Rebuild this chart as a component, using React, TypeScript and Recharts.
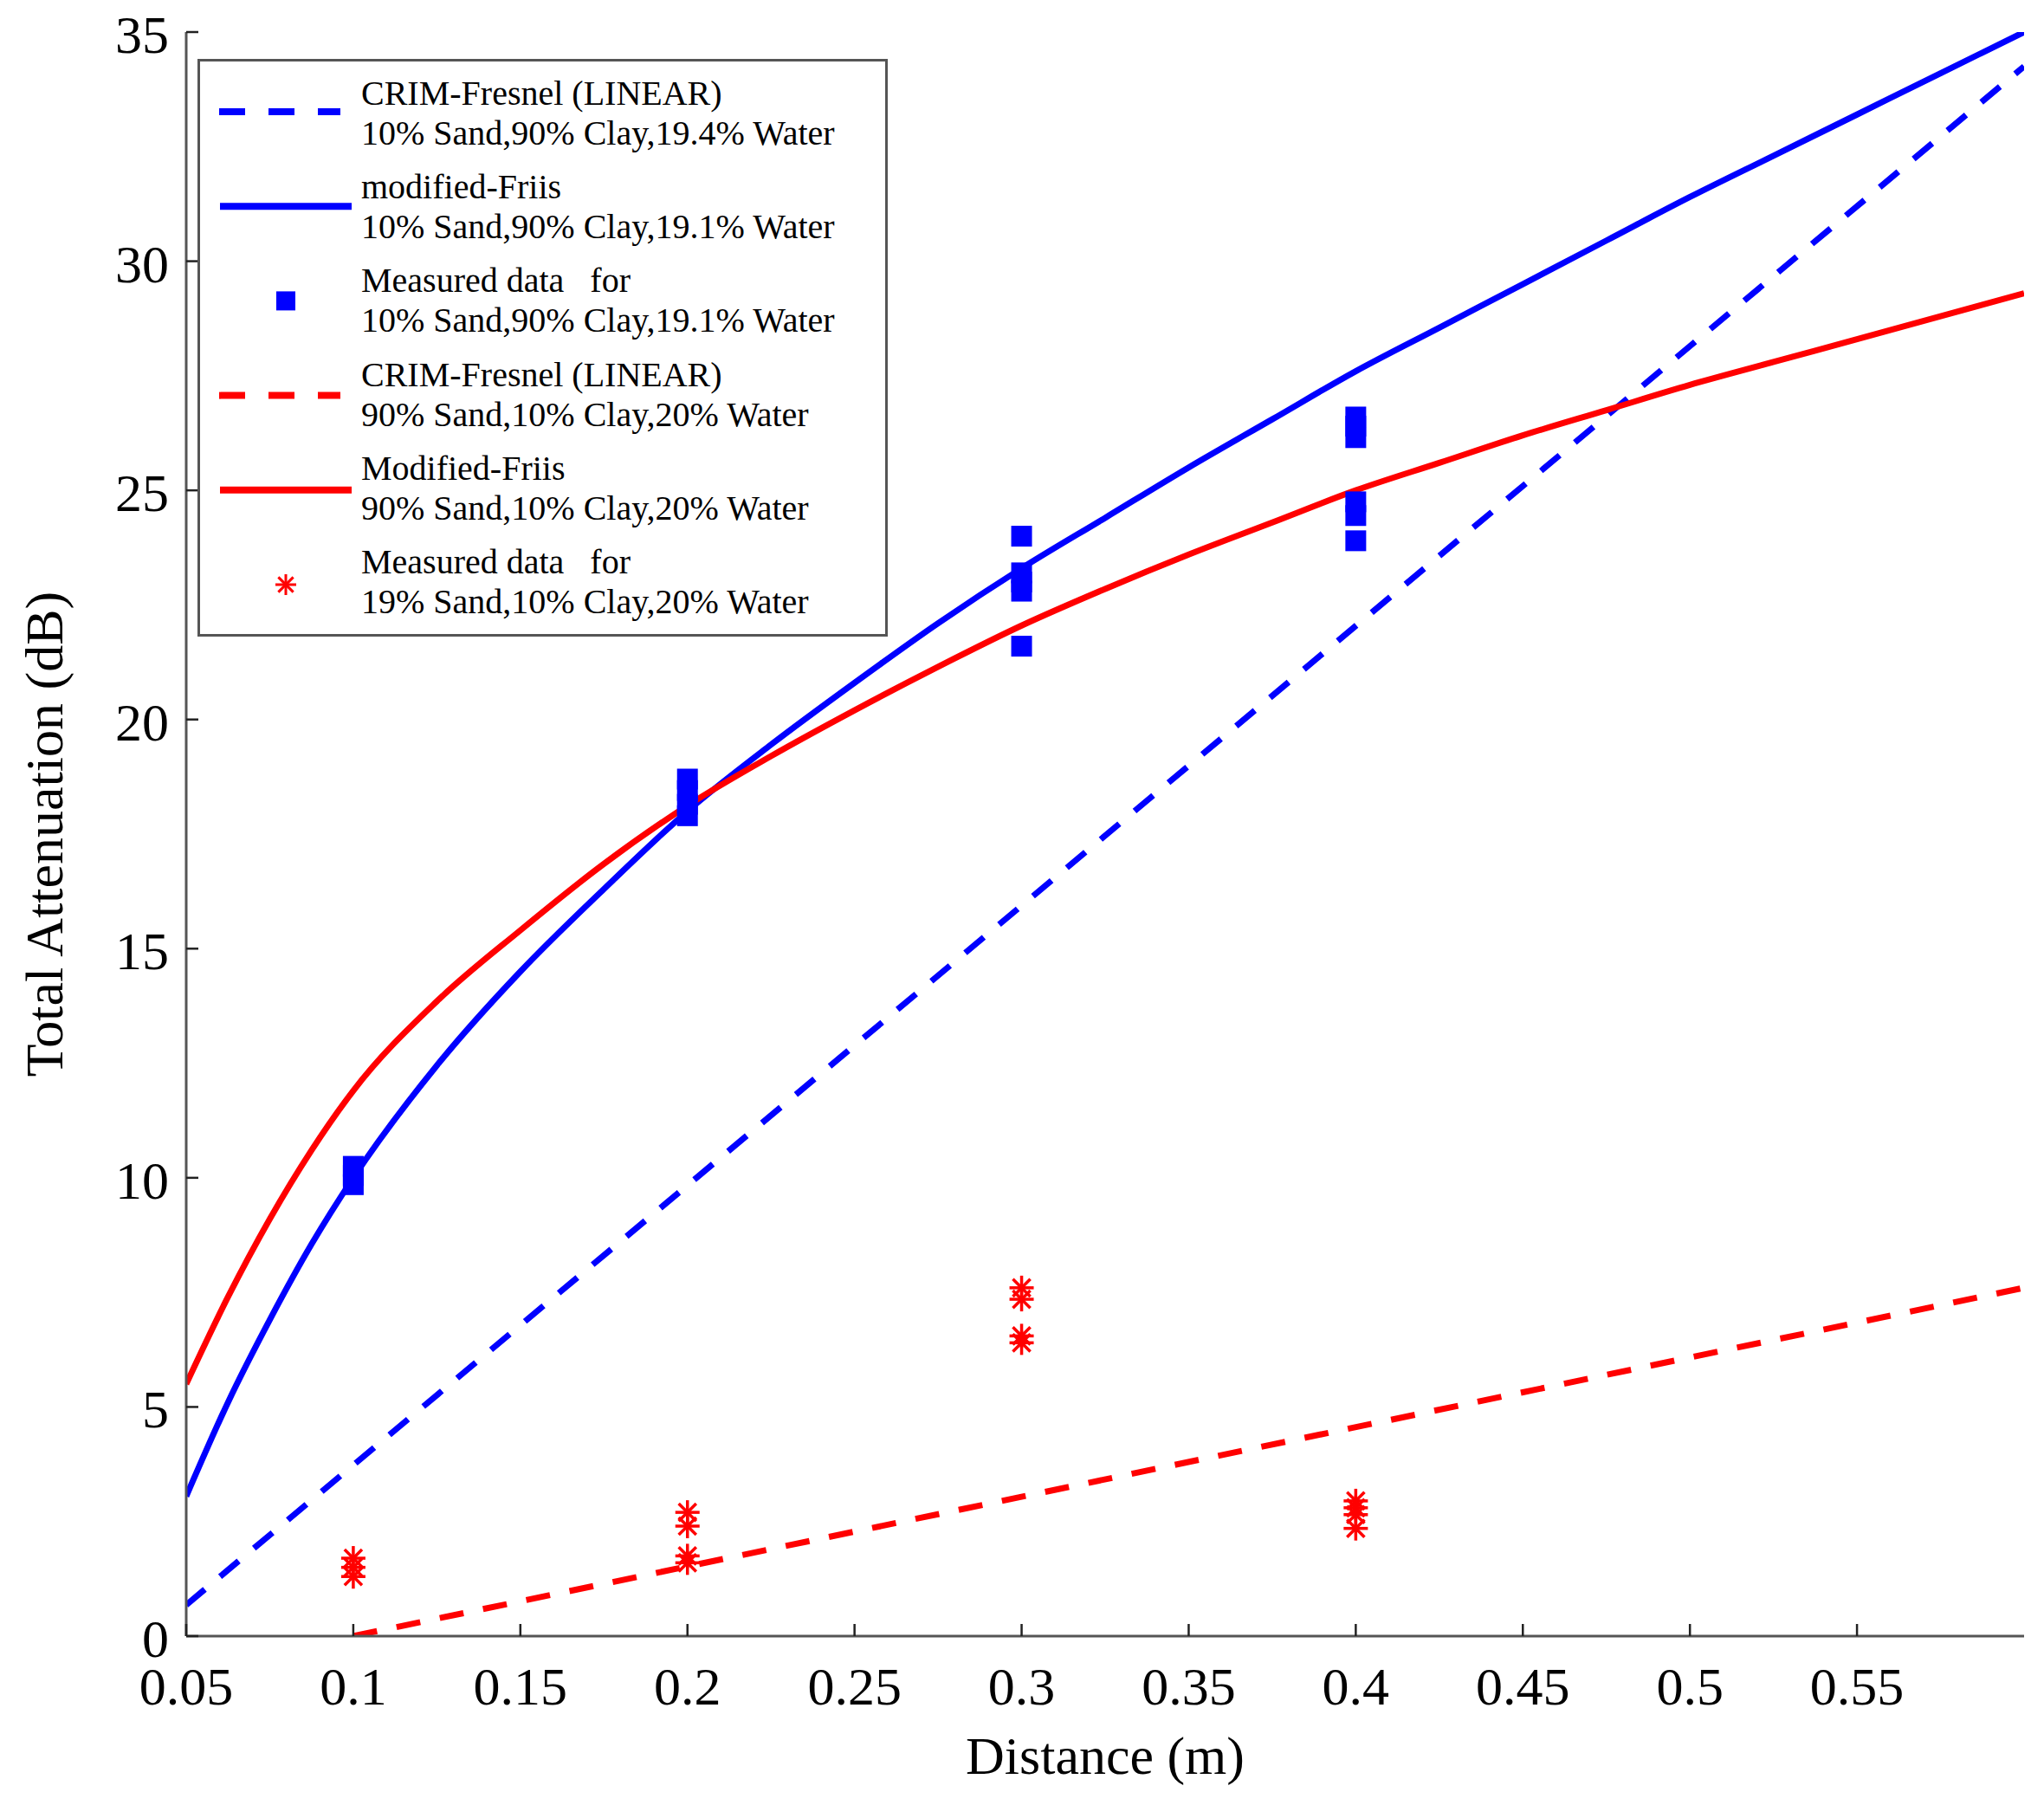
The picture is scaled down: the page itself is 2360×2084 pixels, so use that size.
import React from "react";
import { ComposedChart, Line, Scatter, XAxis, YAxis, Legend, Label } from "recharts";

const FONT = '"Liberation Serif", "Times New Roman", serif';
const BLUE = "#0000ff";
const RED = "#ff0000";
const AXIS = "#555555";

const xTicks = [0.05, 0.1, 0.15, 0.2, 0.25, 0.3, 0.35, 0.4, 0.45, 0.5, 0.55];
const yTicks = [0, 5, 10, 15, 20, 25, 30, 35];

// modified-Friis curves
const curveX = [0.05, 0.0625, 0.075, 0.0875, 0.1, 0.125, 0.15, 0.175, 0.2, 0.225, 0.25, 0.275, 0.3,
  0.325, 0.35, 0.375, 0.4, 0.425, 0.45, 0.475, 0.5, 0.525, 0.55, 0.575, 0.6];
const friisBlueY = [3.05, 5.1, 6.9, 8.55, 10.0, 12.45, 14.5, 16.3, 18.0, 19.45, 20.8, 22.1, 23.3,
  24.4, 25.5, 26.55, 27.6, 28.55, 29.5, 30.45, 31.4, 32.3, 33.2, 34.1, 35.0];
const friisRedY = [5.5, 7.4, 9.1, 10.6, 11.9, 13.85, 15.4, 16.85, 18.12, 19.2, 20.2, 21.15, 22.05,
  22.85, 23.6, 24.3, 25.0, 25.6, 26.2, 26.75, 27.3, 27.8, 28.3, 28.8, 29.3];

// CRIM-Fresnel (linear)
const crimBlueX = [0.05, 0.6];
const crimBlueY = [0.68, 34.25];
const crimRedX = [0.1, 0.6];
const crimRedY = [0, 7.6];

// measured data
const measBlueX = [0.1, 0.1, 0.1, 0.2, 0.2, 0.2, 0.2, 0.3, 0.3, 0.3, 0.3, 0.3, 0.4, 0.4, 0.4, 0.4, 0.4, 0.4];
const measBlueY = [9.85, 10.05, 10.25, 17.9, 18.15, 18.45, 18.7, 21.6, 22.8, 23.0, 23.2, 24.0, 23.9, 24.45, 24.75, 26.15, 26.4, 26.6];
const measRedX = [0.1, 0.1, 0.1, 0.2, 0.2, 0.2, 0.2, 0.3, 0.3, 0.3, 0.3, 0.4, 0.4, 0.4, 0.4];
const measRedY = [1.3, 1.5, 1.7, 1.6, 1.75, 2.4, 2.7, 6.4, 6.55, 7.35, 7.6, 2.35, 2.65, 2.8, 2.95];

const legendText = [
  ["CRIM-Fresnel (LINEAR)", "10% Sand,90% Clay,19.4% Water"],
  ["modified-Friis", "10% Sand,90% Clay,19.1% Water"],
  ["Measured data   for", "10% Sand,90% Clay,19.1% Water"],
  ["CRIM-Fresnel (LINEAR)", "90% Sand,10% Clay,20% Water"],
  ["Modified-Friis", "90% Sand,10% Clay,20% Water"],
  ["Measured data   for", "19% Sand,10% Clay,20% Water"],
];
const legendKind = ["dash", "line", "square", "dash", "line", "star"];
const legendColor = [BLUE, BLUE, BLUE, RED, RED, RED];

const toPoints = (xs: number[], ys: number[]) => xs.map((x, i) => ({ x, y: ys[i] }));

const Square = ({ cx, cy, size = 24, fill = BLUE }: any) => (
  <rect x={cx - size / 2} y={cy - size / 2} width={size} height={size} fill={fill} />
);

const Star = ({ cx, cy, r = 14, stroke = RED, w = 3.5 }: any) => {
  const d = r * 0.72;
  return (
    <g stroke={stroke} strokeWidth={w}>
      <line x1={cx - r} y1={cy} x2={cx + r} y2={cy} />
      <line x1={cx} y1={cy - r} x2={cx} y2={cy + r} />
      <line x1={cx - d} y1={cy - d} x2={cx + d} y2={cy + d} />
      <line x1={cx - d} y1={cy + d} x2={cx + d} y2={cy - d} />
    </g>
  );
};

const BottomTick = ({ x, y, payload }: any) => (
  <g>
    <line x1={x} y1={y} x2={x} y2={y - 14} stroke="#222" strokeWidth={2.5} />
    <text x={x} y={y + 79} textAnchor="middle" fontFamily={FONT} fontSize={62} fill="#000">
      {String(payload.value)}
    </text>
  </g>
);

const TopTick = ({ x, y }: any) => (
  <line x1={x} y1={y} x2={x} y2={y + 14} stroke="#222" strokeWidth={2.5} />
);

const LeftTick = ({ x, y, payload }: any) => (
  <g>
    <line x1={x} y1={y} x2={x + 14} y2={y} stroke="#222" strokeWidth={2.5} />
    <text x={x - 20} y={y + 24} textAnchor="end" fontFamily={FONT} fontSize={62} fill="#000">
      {String(payload.value)}
    </text>
  </g>
);

const RightTick = ({ x, y }: any) => (
  <line x1={x} y1={y} x2={x - 14} y2={y} stroke="#222" strokeWidth={2.5} />
);

function LegendBox() {
  return (
    <svg width={797} height={667} style={{ display: "block" }}>
      <rect x={1.5} y={1.5} width={794} height={664} fill="#fff" stroke={AXIS} strokeWidth={3} />
      {legendText.map((lines, i) => {
        const sy = 61 + i * 109.2;
        const ty = 53 + i * 108.2;
        const kind = legendKind[i];
        const color = legendColor[i];
        return (
          <g key={i}>
            {kind === "dash" && (
              <line x1={25} y1={sy} x2={165} y2={sy} stroke={color} strokeWidth={8} strokeDasharray="30 27" />
            )}
            {kind === "line" && <line x1={26} y1={sy} x2={178} y2={sy} stroke={color} strokeWidth={8} />}
            {kind === "square" && <Square cx={102} cy={sy} size={22} fill={color} />}
            {kind === "star" && <Star cx={102} cy={sy} r={12} stroke={color} w={3} />}
            <text x={189} y={ty} fontFamily={FONT} fontSize={40} fill="#000" style={{ whiteSpace: "pre" }}>
              {lines[0]}
            </text>
            <text x={189} y={ty + 46} fontFamily={FONT} fontSize={40} fill="#000" style={{ whiteSpace: "pre" }}>
              {lines[1]}
            </text>
          </g>
        );
      })}
    </svg>
  );
}

export default function App() {
  const friisBlue = toPoints(curveX, friisBlueY);
  const friisRed = toPoints(curveX, friisRedY);
  const crimBlue = toPoints(crimBlueX, crimBlueY);
  const crimRed = toPoints(crimRedX, crimRedY);
  const measBlue = toPoints(measBlueX, measBlueY);
  const measRed = toPoints(measRedX, measRedY);

  return (
    <div style={{ width: 2344, height: 2068, background: "#fff" }}>
      <ComposedChart width={2344} height={2068} margin={{ top: 29, right: 15, bottom: 0, left: 0 }}>
        <XAxis
          xAxisId={0}
          dataKey="x"
          type="number"
          domain={[0.05, 0.6]}
          allowDataOverflow
          ticks={xTicks}
          interval={0}
          height={187}
          tickSize={0}
          tickMargin={0}
          stroke={AXIS}
          strokeWidth={3}
          tickLine={false}
          tick={(p: any) => <BottomTick {...p} />}
        >
          <Label
            content={({ viewBox }: any) => (
              <text
                x={viewBox.x + viewBox.width / 2}
                y={2040}
                textAnchor="middle"
                fontFamily={FONT}
                fontSize={62}
                fill="#000"
              >
                Distance (m)
              </text>
            )}
          />
        </XAxis>
        <XAxis
          xAxisId="top"
          orientation="top"
          dataKey="x"
          type="number"
          domain={[0.05, 0.6]}
          allowDataOverflow
          ticks={xTicks}
          interval={0}
          height={0}
          tickSize={0}
          tickMargin={0}
          stroke={AXIS}
          strokeWidth={3}
          tickLine={false}
          tick={(p: any) => <TopTick {...p} />}
        />
        <YAxis
          yAxisId={0}
          dataKey="y"
          type="number"
          domain={[0, 35]}
          allowDataOverflow
          ticks={yTicks}
          interval={0}
          width={207}
          tickSize={0}
          tickMargin={0}
          stroke={AXIS}
          strokeWidth={3}
          tickLine={false}
          tick={(p: any) => <LeftTick {...p} />}
        >
          <Label
            content={({ viewBox }: any) => {
              const cy = viewBox.y + viewBox.height / 2;
              return (
                <text
                  x={64}
                  y={cy}
                  transform={`rotate(-90, 64, ${cy})`}
                  textAnchor="middle"
                  fontFamily={FONT}
                  fontSize={62}
                  fill="#000"
                >
                  Total Attenuation (dB)
                </text>
              );
            }}
          />
        </YAxis>
        <YAxis
          yAxisId="right"
          orientation="right"
          type="number"
          domain={[0, 35]}
          allowDataOverflow
          ticks={yTicks}
          interval={0}
          width={0}
          tickSize={0}
          tickMargin={0}
          stroke={AXIS}
          strokeWidth={3}
          tickLine={false}
          tick={(p: any) => <RightTick {...p} />}
        />

        <Line
          data={crimBlue}
          dataKey="y"
          type="linear"
          stroke={BLUE}
          strokeWidth={7}
          strokeDasharray="28 23"
          dot={false}
          activeDot={false}
          isAnimationActive={false}
        />
        <Line
          data={friisBlue}
          dataKey="y"
          type="monotone"
          stroke={BLUE}
          strokeWidth={7}
          dot={false}
          activeDot={false}
          isAnimationActive={false}
        />
        <Scatter data={measBlue} dataKey="y" shape={(p: any) => <Square cx={p.cx} cy={p.cy} />} isAnimationActive={false} />
        <Line
          data={crimRed}
          dataKey="y"
          type="linear"
          stroke={RED}
          strokeWidth={7}
          strokeDasharray="28 23"
          dot={false}
          activeDot={false}
          isAnimationActive={false}
        />
        <Line
          data={friisRed}
          dataKey="y"
          type="monotone"
          stroke={RED}
          strokeWidth={7}
          dot={false}
          activeDot={false}
          isAnimationActive={false}
        />
        <Scatter data={measRed} dataKey="y" shape={(p: any) => <Star cx={p.cx} cy={p.cy} />} isAnimationActive={false} />

        <Legend
          layout="vertical"
          align="center"
          verticalAlign="middle"
          wrapperStyle={{ left: 220, top: 60, width: 797, height: 667 }}
          content={() => <LegendBox />}
        />
      </ComposedChart>
    </div>
  );
}
